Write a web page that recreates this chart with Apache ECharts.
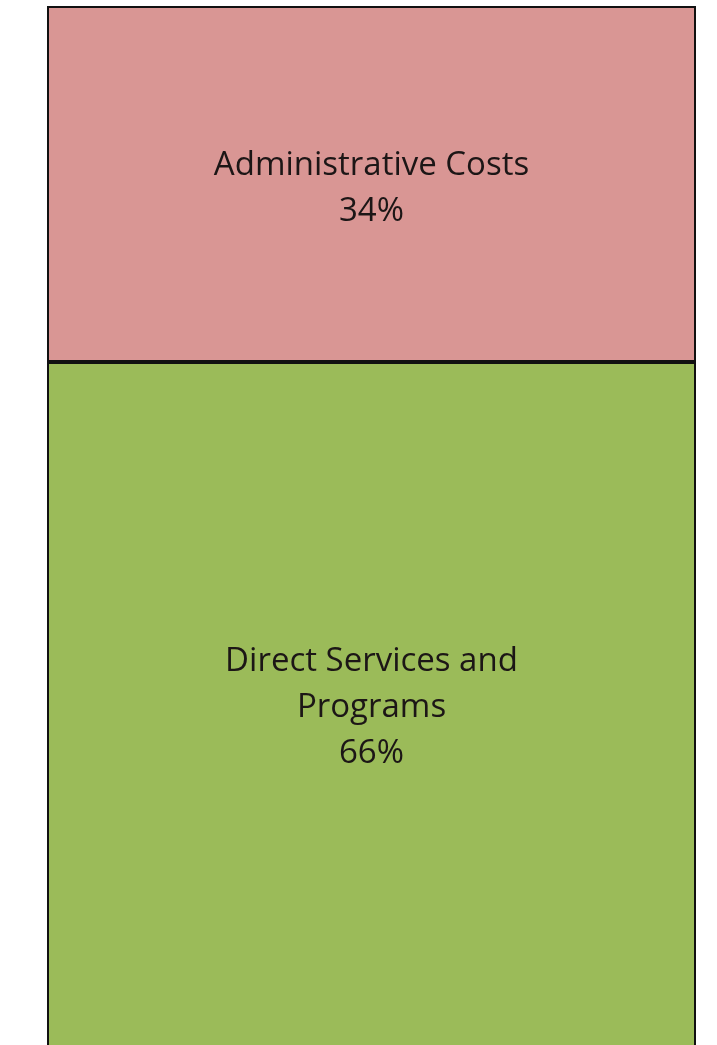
<!DOCTYPE html>
<html>
<head>
<meta charset="utf-8">
<style>
  html, body { margin: 0; padding: 0; background: #fff; }
  #chart { width: 717px; height: 1045px; }
</style>
<script src="https://cdn.jsdelivr.net/npm/echarts@6/dist/echarts.min.js"></script>
</head>
<body>
<div id="chart"></div>
<script>
  // share of spending, percent
  let categories = ['Spending']
  let seriesNames = ['Direct Services and\nPrograms', 'Administrative Costs']
  let directData = [66]
  let adminData = [34]

  let myChart = echarts.init(document.getElementById('chart'))

  let labelStyle = {
      show: true,
      position: 'inside',
      fontFamily: 'Open Sans',
      fontSize: 33,
      lineHeight: 46,
      color: '#1c1616',
      formatter: p => p.seriesName + '\n' + p.value + '%'
  }

  let option = {
      animation: false,
      grid: {
          left: 47,
          right: 21,
          top: 6,
          bottom: -8,
          outerBoundsMode: 'none'
      },
      xAxis: {
          type: 'category',
          data: categories,
          show: false
      },
      yAxis: {
          type: 'value',
          min: 0,
          max: 100,
          show: false
      },
      series: [
          {
              name: seriesNames[0],
              type: 'bar',
              stack: 'total',
              barWidth: '100%',
              clip: false,
              data: directData,
              itemStyle: {
                  color: '#9BBB59',
                  borderColor: '#111',
                  borderWidth: 2
              },
              label: labelStyle
          },
          {
              name: seriesNames[1],
              type: 'bar',
              stack: 'total',
              barWidth: '100%',
              clip: false,
              data: adminData,
              itemStyle: {
                  color: '#D99694',
                  borderColor: '#111',
                  borderWidth: 2
              },
              label: Object.assign({}, labelStyle, { offset: [0, 5] })
          }
      ]
  }

  myChart.setOption(option, true)
</script>
</body>
</html>
